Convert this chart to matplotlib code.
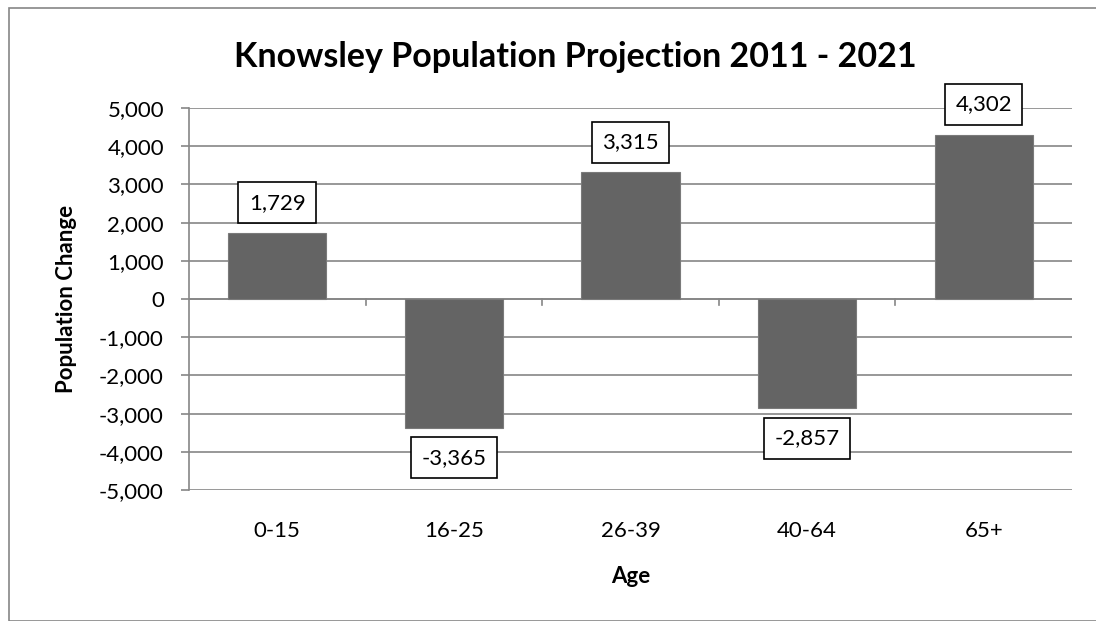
import matplotlib
matplotlib.use("Agg")
import matplotlib.pyplot as plt
from matplotlib.patches import Rectangle
from matplotlib.ticker import FuncFormatter, MultipleLocator

plt.rcParams['font.family'] = ['Lato', 'DejaVu Sans']

categories = ["0-15", "16-25", "26-39", "40-64", "65+"]
changes = [1729, -3365, 3315, -2857, 4302]

W, H = 1096, 621
fig = plt.figure(figsize=(W / 100, H / 100), dpi=100)

# outer chart frame
fig.patches.append(Rectangle((9 / W, 0), 1.2, (H - 8) / H, transform=fig.transFigure,
                             fill=False, edgecolor="#868686", linewidth=1.2))

left, right, top, bottom = 189, 1072, 108, 490
ax = fig.add_axes([left / W, 1 - bottom / H, (right - left) / W, (bottom - top) / H])

x = range(len(categories))
ax.bar(x, changes, width=0.555, color="#646464", edgecolor="#7a7a7a", linewidth=0.8, zorder=3)

ax.set_xlim(-0.5, len(categories) - 0.5)
ax.set_ylim(-5000, 5000)
ax.yaxis.set_major_locator(MultipleLocator(1000))
ax.yaxis.set_major_formatter(FuncFormatter(lambda v, p: f"{int(v):,}"))
ax.grid(axis="y", color="#868686", linewidth=1.2, zorder=0)

for s in ["top", "right", "bottom"]:
    ax.spines[s].set_visible(False)
ax.spines["left"].set_color("#868686")
ax.spines["left"].set_linewidth(1.2)
ax.axhline(0, color="#868686", linewidth=1.2, zorder=2)

ax.set_xticks(list(x))
ax.set_xticklabels(categories)
ax.tick_params(axis="x", length=0, pad=22, labelsize=16)
ax.tick_params(axis="y", length=6, width=1.2, color="#868686", pad=12, labelsize=16)

# small category-boundary ticks hanging below the zero line
for b in [i + 0.5 for i in range(len(categories) - 1)]:
    ax.plot([b, b], [0, -160], color="#868686", linewidth=1.2, zorder=2, clip_on=False)

for i, v in enumerate(changes):
    off = 14.5 if v > 0 else -14.5
    ax.annotate(f"{v:,}", (i, v), xytext=(0, off), textcoords="offset points",
                ha="center", va="bottom" if v > 0 else "top", fontsize=16, zorder=5,
                bbox=dict(boxstyle="square,pad=0.47", facecolor="white", edgecolor="black", linewidth=1.2))

ax.set_ylabel("Population Change", fontsize=16, fontweight="bold", labelpad=16)
ax.set_xlabel("Age", fontsize=16, fontweight="bold", labelpad=18)
fig.text((235 + 915) / 2 / W, 1 - 57 / H, "Knowsley Population Projection 2011 - 2021",
         ha="center", va="center", fontsize=24.5, fontweight="bold")

fig.savefig("out.png", dpi=100)
